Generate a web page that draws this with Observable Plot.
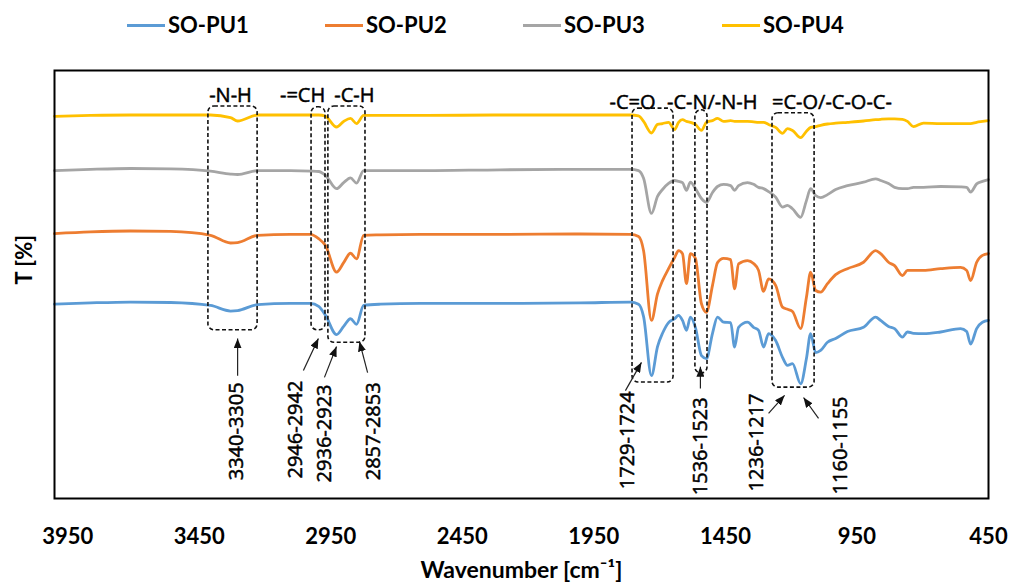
<!DOCTYPE html>
<html><head><meta charset="utf-8">
<script src="https://cdn.jsdelivr.net/npm/d3@7"></script>
<script src="https://cdn.jsdelivr.net/npm/@observablehq/plot@0.6"></script>
<style>
body{margin:0;background:#fff;width:1009px;height:583px;overflow:hidden}
#legend{position:relative;height:50px;font-family:Lato,sans-serif;font-weight:bold;font-size:22px;color:#000}
.item{position:absolute;top:11px;display:flex;align-items:center;line-height:28px}
.sw{width:38px;height:3px;margin-right:3px}
</style></head><body>
<div id="legend"></div>
<div id="chart"></div>
<script>
// ---- data ----
const seriesNames = ["SO-PU1","SO-PU2","SO-PU3","SO-PU4"];
const seriesColors = ["#5B9BD5","#ED7D31","#A5A5A5","#FFC000"];
const xTicks = [3950,3450,2950,2450,1950,1450,950,450];

const wavenumber = [4000,3863,3711,3559,3407,3331,3304,3228,3103,3027,2996,2970,2928,2901,2875,2852,2825,2761,2609,2305,2001,1811,1780,1761,1731,1708,1689,1666,1643,1628,1613,1598,1583,1564,1541,1522,1499,1480,1457,1430,1415,1400,1366,1343,1324,1305,1286,1259,1233,1214,1195,1164,1142,1126,1107,1088,1062,1031,986,925,879,860,830,807,777,758,735,697,632,556,533,518,495,473,450];
const soPU1 = [45.4,45.7,45.9,45.8,45.1,43.8,43.9,45.3,45.6,45.6,44.9,42.8,38.3,40.2,42.0,40.7,45.1,45.4,45.6,45.6,45.7,45.9,45.4,42.5,28.7,35.5,38.6,41.1,42.0,42.8,41.6,39.3,42.4,40.0,33.4,32.7,38.6,42.4,41.2,41.1,35.4,40.0,41.2,40.0,39.3,35.4,38.5,36.9,33.0,31.1,31.5,26.8,32.7,38.5,34.1,34.6,36.5,37.4,39.0,40.0,42.4,41.6,40.2,39.7,37.7,38.9,38.6,38.5,38.9,39.7,39.0,36.1,39.7,41.2,41.6];
const soPU2 = [61.9,62.3,62.5,62.4,61.5,59.7,59.8,61.5,61.7,61.7,60.7,59.1,52.9,55.1,57.3,56.0,61.5,61.6,61.7,61.7,61.8,61.7,61.2,57.9,41.6,47.8,50.9,53.7,56.3,57.9,57.2,50.2,57.2,56.1,45.5,43.5,49.8,55.1,56.1,55.8,49.0,54.8,55.6,54.9,53.3,48.4,51.3,49.8,44.7,44.2,43.7,39.7,47.0,52.9,48.6,48.2,50.2,52.3,53.7,55.2,57.9,57.2,55.2,54.4,52.1,53.3,53.3,53.3,53.7,54.0,53.3,50.9,55.2,56.8,57.2];
const soPU3 = [76.6,76.9,77.1,77.0,76.5,75.8,75.7,76.6,76.6,76.5,76.4,75.5,72.4,73.8,74.9,73.7,76.6,76.6,76.6,76.8,76.9,76.9,76.6,74.8,66.6,70.6,72.2,73.6,74.3,74.1,73.8,72.0,73.9,72.4,70.1,69.2,71.5,72.9,73.4,73.1,72.0,73.1,73.8,73.4,72.7,72.4,71.7,70.4,68.1,68.5,67.7,65.7,69.6,72.4,70.8,70.3,71.0,72.2,73.1,73.9,74.7,74.3,73.6,72.7,72.4,72.4,72.7,72.7,72.9,72.8,72.7,71.6,73.5,74.1,74.5];
const soPU4 = [89.3,89.5,89.6,89.6,89.6,89.0,88.2,89.6,89.6,89.6,89.6,89.3,86.8,88.1,88.8,87.6,89.5,89.5,89.5,89.6,89.6,89.6,89.4,88.1,85.4,87.4,87.6,87.9,86.2,87.9,88.5,88.1,87.9,87.4,86.0,87.9,88.3,88.8,88.1,88.3,88.1,88.1,88.1,88.0,87.9,87.9,87.4,86.7,85.3,86.4,86.0,84.3,85.8,86.7,86.9,87.2,87.5,87.7,87.9,88.2,88.5,88.6,88.7,88.7,88.6,88.1,86.9,87.7,87.6,87.6,87.6,87.6,87.9,88.1,88.3];

// band boxes (wavenumber range, transmittance range)
const bandLabels = ["-N-H","-=CH","-C-H","-C=O","-C-N/-N-H","=C-O/-C-O-C-"];
const bandLabelW = [3331,3057,2860,1803,1500,1045];
const bandLabelT = [94.2,94.2,94.2,92.5,92.5,92.5];
const boxW1 = [3415,3023,2959,1803,1564,1271];
const boxW2 = [3228,2970,2818,1647,1518,1111];
const boxT1 = [91.6,91.4,91.6,91.1,90.7,90.0];
const boxT2 = [39.3,39.3,36.4,27.1,29.2,25.9];

// peak range labels and arrows
const peakLabels = ["3340-3305","2946-2942","2936-2923","2857-2853","1729-1724","1536-1523","1236-1217","1160-1155"];
const peakLabelW = [3308,3084,2974,2787,1822,1545,1332,1012];
const peakLabelT = [15.7,16.1,15.2,15.7,13.6,12.2,13.1,12.4];
const arrowW1 = [3304,3054,2974,2810,1830,1545,1286,1096];
const arrowT1 = [28.7,29.9,28.3,29.4,25.2,25.7,19.9,18.7];
const arrowW2 = [3304,2997,2928,2841,1769,1545,1225,1153];
const arrowT2 = [37.4,37.4,35.5,36.7,31.8,30.8,24.1,23.6];

// ---- build tables ----
const seriesValues = [soPU1, soPU2, soPU3, soPU4];
const rows = [];
seriesNames.forEach((s, k) => wavenumber.forEach((w, i) => rows.push({series: s, w, t: seriesValues[k][i]})));
const boxes = boxW1.map((w, i) => ({w1: w, w2: boxW2[i], t1: boxT1[i], t2: boxT2[i]}));
const bands = bandLabels.map((l, i) => ({l, w: bandLabelW[i], t: bandLabelT[i]}));
const peaks = peakLabels.map((l, i) => ({l, w: peakLabelW[i], t: peakLabelT[i]}));
const arrows = arrowW1.map((w, i) => ({w1: w, t1: arrowT1[i], w2: arrowW2[i], t2: arrowT2[i]}));

// ---- legend ----
const legend = document.getElementById("legend");
const legendLeft = [127, 325, 523, 722];
seriesNames.forEach((s, i) => {
  const it = document.createElement("div");
  it.className = "item";
  it.style.left = legendLeft[i] + "px";
  it.innerHTML = `<span class="sw" style="background:${seriesColors[i]}"></span><span>${s}</span>`;
  legend.appendChild(it);
});

const annFont = "'Open Sans', sans-serif";
const chart = Plot.plot({
  width: 1009, height: 533,
  marginTop: 20, marginBottom: 85, marginLeft: 54, marginRight: 21,
  style: {fontFamily: "Lato, sans-serif", background: "white", color: "black"},
  x: {domain: [4000, 450], axis: null},
  y: {domain: [0, 100], axis: null},
  color: {domain: seriesNames, range: seriesColors},
  marks: [
    Plot.axisX({ticks: xTicks, tickSize: 0, tickPadding: 30, fontSize: 22, fontWeight: "bold", label: null, tickFormat: d => String(d)}),
    Plot.line(rows, {x: "w", y: "t", z: "series", stroke: "series", strokeWidth: 2.8, curve: "monotone-x"}),
    Plot.rect(boxes, {x1: "w1", x2: "w2", y1: "t1", y2: "t2", fill: "none", stroke: "#111", strokeWidth: 1.6, strokeDasharray: "4,2.5", rx: 6}),
    Plot.text(bands, {x: "w", y: "t", text: "l", fontSize: 20, fontFamily: annFont, fill: "#000", stroke: "#000", strokeWidth: 0.5}),
    Plot.text(peaks, {x: "w", y: "t", text: "l", rotate: -90, fontSize: 20, fontFamily: annFont, fill: "#000", stroke: "#000", strokeWidth: 0.5}),
    Plot.link(arrows, {x1: "w1", y1: "t1", x2: "w2", y2: "t2", stroke: "#222", strokeWidth: 1.2}),
    Plot.frame({stroke: "black", strokeWidth: 2}),
    Plot.text(["Wavenumber [cm⁻¹]"], {frameAnchor: "bottom", dy: 79, text: d => d, fontSize: 23, fontWeight: "bold"}),
    Plot.text(["T [%]"], {frameAnchor: "left", dx: -30, rotate: -90, text: d => d, fontSize: 22, fontWeight: "bold"})
  ]
});
document.getElementById("chart").appendChild(chart);

// filled triangular arrow heads
const svg = d3.select(chart);
svg.append("defs").append("marker")
  .attr("id", "triHead").attr("viewBox", "0 0 10 8").attr("refX", 10).attr("refY", 4)
  .attr("markerWidth", 10).attr("markerHeight", 8).attr("markerUnits", "userSpaceOnUse").attr("orient", "auto")
  .append("path").attr("d", "M0,0L10,4L0,8Z").attr("fill", "#111");
svg.selectAll('g[aria-label="link"] path').attr("marker-end", "url(#triHead)");
</script>
</body></html>
